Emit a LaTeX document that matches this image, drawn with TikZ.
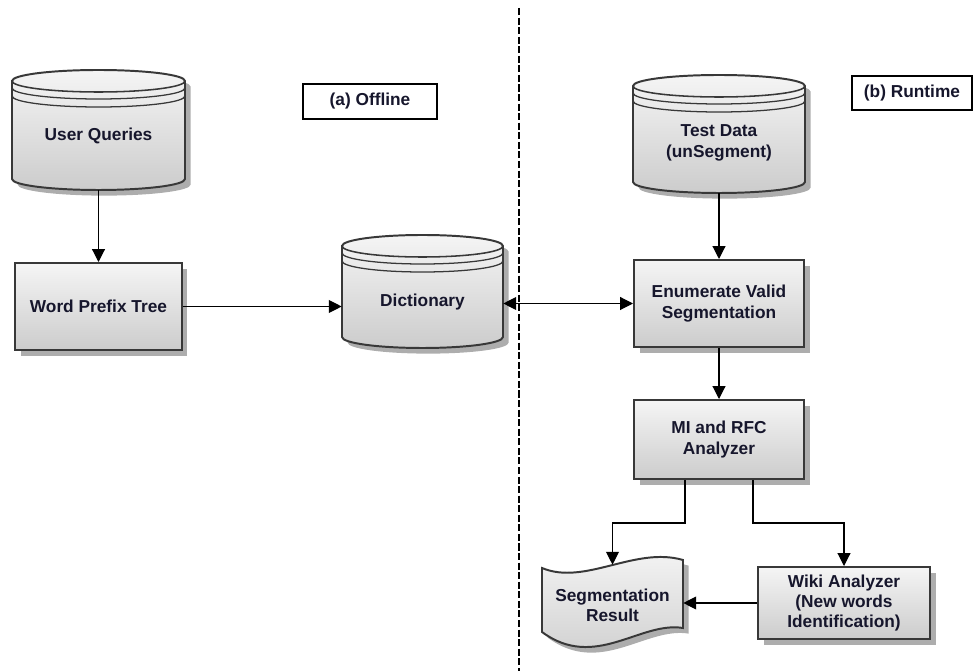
\documentclass[tikz,border=0pt]{standalone}
\usepackage{fontspec}
\setmainfont{Liberation Sans}
\usetikzlibrary{arrows.meta,shadows}

\definecolor{labelink}{HTML}{16162C}

\tikzset{
  boxfont/.style={font=\bfseries\fontsize{12.3}{14.4}\selectfont, text=labelink, align=center},
  shade3d/.style={draw=black!78, line width=1.4pt, top color=black!4, bottom color=black!20,
    drop shadow={shadow xshift=4pt, shadow yshift=-4pt, fill=black!32, opacity=1}},
  procbox/.style={shade3d, boxfont, inner sep=0pt},
  dblabel/.style={boxfont, inner sep=0pt},
  tagbox/.style={draw=black, line width=2pt, fill=white, boxfont, inner sep=0pt},
  head/.tip={Triangle[length=3.2mm,width=3.2mm]},
  link/.style={line width=0.8pt, -head},
}

\begin{document}
\begin{tikzpicture}[x=0.025cm,y=0.025cm]
  \useasboundingbox (0,0) rectangle (975,671);

  % database drums
  \foreach \cx/\rx/\yt/\yb in {98.5/86.5/590/492, 422.5/80.5/425/334, 719/86/585/489}{
    \path[shade3d] ({\cx-\rx},\yt) -- ({\cx-\rx},\yb)
      arc[start angle=180, end angle=360, x radius=\rx, y radius=11]
      -- ({\cx+\rx},\yt)
      arc[start angle=0, end angle=180, x radius=\rx, y radius=11] -- cycle;
    \draw[black!78, line width=1.1pt] ({\cx-\rx},\yt) arc[start angle=180, end angle=360, x radius=\rx, y radius=11];
    \draw[black!78, line width=0.9pt] ({\cx-\rx},{\yt-7}) arc[start angle=180, end angle=360, x radius=\rx, y radius=11];
    \draw[black!78, line width=0.9pt] ({\cx-\rx},{\yt-15}) arc[start angle=180, end angle=360, x radius=\rx, y radius=11];
  }
  \node[dblabel, minimum width=4.325cm, minimum height=2.725cm] (queries) at (98.5,535.5) {User Queries};
  \node[dblabel, minimum width=4.025cm, minimum height=2.3cm] (dict) at (422.5,369) {Dictionary};
  \node[dblabel, minimum width=4.3cm, minimum height=2.5cm] (testdata) at (719,528) {Test Data\\(unSegment)};

  % process boxes
  \node[procbox, minimum width=4.15cm, minimum height=2.175cm] (prefix) at (98.5,364.5) {Word Prefix Tree};
  \node[procbox, minimum width=4.25cm, minimum height=2.175cm] (enum) at (719,367.5) {Enumerate Valid\\Segmentation};
  \node[procbox, minimum width=4.25cm, minimum height=1.975cm] (mi) at (719,231.5) {MI and RFC\\Analyzer};
  \node[procbox, minimum width=4.3cm, minimum height=1.8cm] (wiki) at (844,68) {Wiki Analyzer\\(New words\\Identification)};

  % wavy result sheet
  \path[shade3d] (542,103) .. controls (585,85) and (635,125) .. (683,111)
    -- (683,43) .. controls (640,50) and (595,0) .. (542,39) -- cycle;
  \node[dblabel, minimum width=3.525cm, minimum height=2cm] (result) at (612.5,66) {Segmentation\\Result};

  % phase tags
  \node[tagbox, minimum width=3.35cm, minimum height=0.875cm] (offline) at (370,569.5) {(a) Offline};
  \node[tagbox, minimum width=3cm, minimum height=0.85cm] (runtime) at (912,578) {(b) Runtime};

  \draw[line width=0.9pt, dash pattern=on 5pt off 1.8pt] (519,663) -- (519,0);

  \draw[link] (queries) -- (prefix);
  \draw[link] (prefix.east) -- (prefix.east -| dict.west);
  \draw[link, head-head] (enum.west -| dict.east) -- (enum.west);
  \draw[link] (testdata) -- (enum);
  \draw[link] (enum) -- (mi);
  \draw[link] ([xshift=-0.85cm]mi.south) -- ++(0,-1.075cm) -| (result.north);
  \draw[link] ([xshift=0.85cm]mi.south) -- ++(0,-1.075cm) -| (wiki.north);
  \draw[link] (wiki.west) -- (wiki.west -| result.east);
\end{tikzpicture}
\end{document}
